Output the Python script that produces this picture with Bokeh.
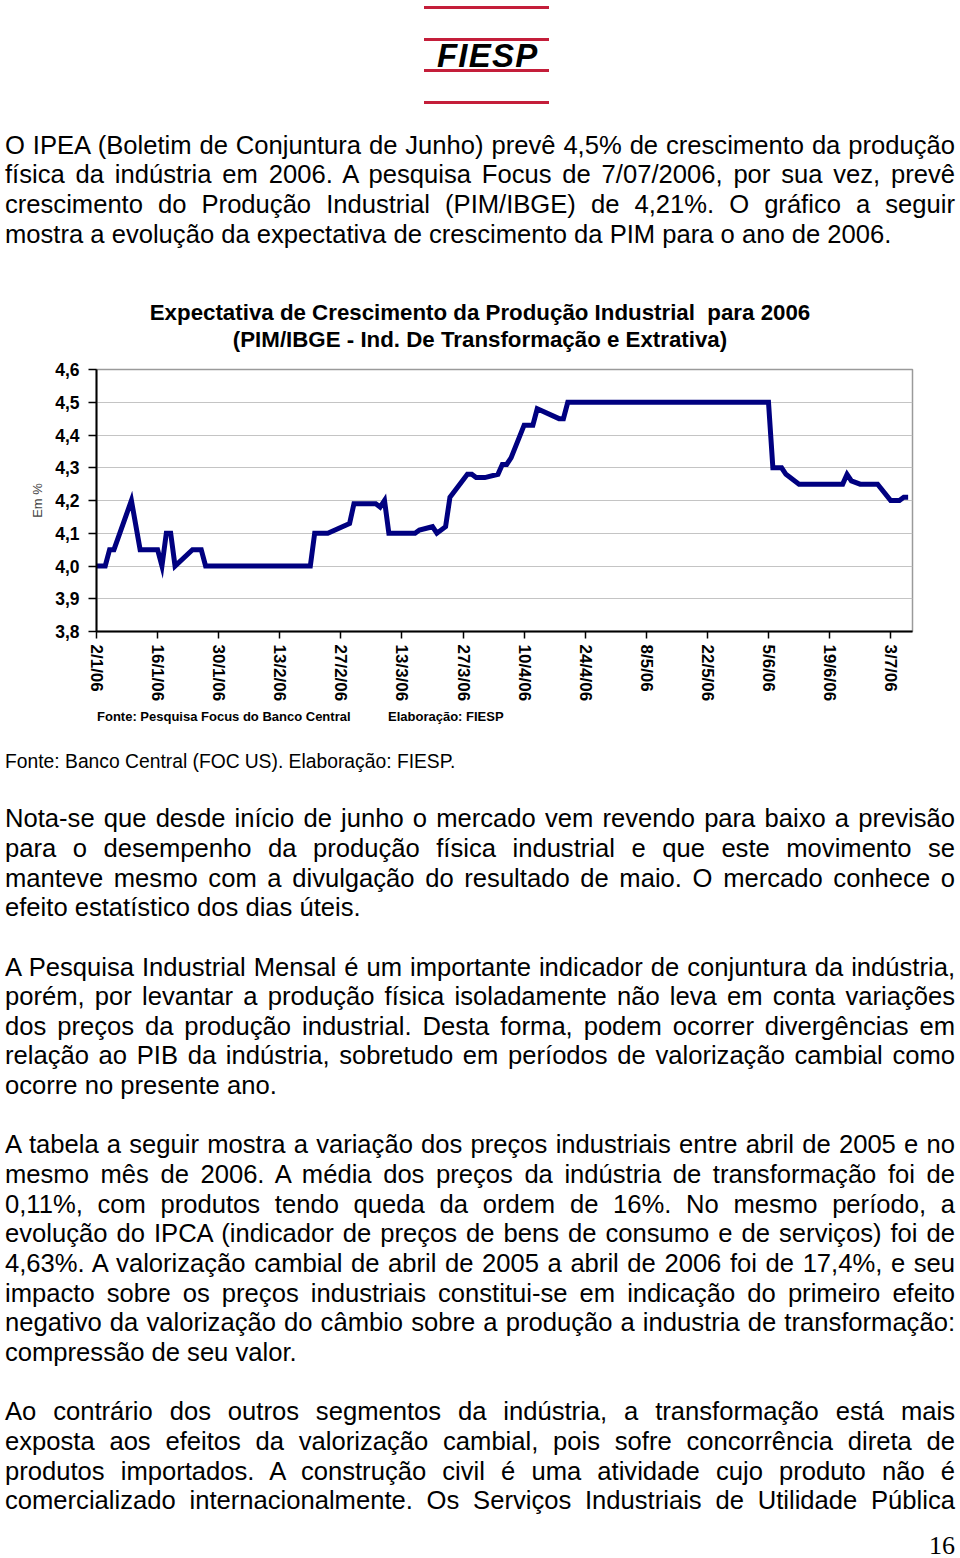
import html
from datetime import datetime

from bokeh.plotting import figure
from bokeh.models import Div, FixedTicker, CustomJSTickFormatter, Label, Range1d
from bokeh.layouts import column
from bokeh.embed import file_html
from bokeh.resources import INLINE

# ---------------- data ----------------
dates = [
    "2006-01-02", "2006-01-04", "2006-01-05", "2006-01-06", "2006-01-10",
    "2006-01-12", "2006-01-16", "2006-01-17", "2006-01-18", "2006-01-19",
    "2006-01-20", "2006-01-24", "2006-01-26", "2006-01-27", "2006-02-20",
    "2006-02-21", "2006-02-24", "2006-03-01", "2006-03-02", "2006-03-07",
    "2006-03-08", "2006-03-09", "2006-03-10", "2006-03-16", "2006-03-17",
    "2006-03-20", "2006-03-21", "2006-03-23", "2006-03-24", "2006-03-28",
    "2006-03-29", "2006-03-30", "2006-04-01", "2006-04-04", "2006-04-05",
    "2006-04-06", "2006-04-07", "2006-04-10", "2006-04-12", "2006-04-13",
    "2006-04-18", "2006-04-19", "2006-04-20", "2006-06-05", "2006-06-06",
    "2006-06-08", "2006-06-09", "2006-06-12", "2006-06-22", "2006-06-23",
    "2006-06-24", "2006-06-26", "2006-06-30", "2006-07-03", "2006-07-05",
    "2006-07-06", "2006-07-07",
]
values = [
    4.00, 4.00, 4.05, 4.05, 4.20,
    4.05, 4.05, 4.00, 4.10, 4.10,
    4.00, 4.05, 4.05, 4.00, 4.00,
    4.10, 4.10, 4.13, 4.19, 4.19,
    4.18, 4.20, 4.10, 4.10, 4.11,
    4.12, 4.10, 4.12, 4.21, 4.28,
    4.28, 4.27, 4.27, 4.28, 4.31,
    4.31, 4.33, 4.43, 4.43, 4.48,
    4.45, 4.45, 4.50, 4.50, 4.30,
    4.30, 4.28, 4.25, 4.25, 4.28,
    4.26, 4.25, 4.25, 4.20, 4.20,
    4.21, 4.21,
]
x_tick_labels = ["2/1/06", "16/1/06", "30/1/06", "13/2/06", "27/2/06", "13/3/06",
                 "27/3/06", "10/4/06", "24/4/06", "8/5/06", "22/5/06", "5/6/06",
                 "19/6/06", "3/7/06"]
x_axis_end = "2006-07-08"
y_ticks = [3.8, 3.9, 4.0, 4.1, 4.2, 4.3, 4.4, 4.5, 4.6]
last_value_label = "4,21"
y_axis_title = "Em %"
chart_title = ["Expectativa de Crescimento da Produção Industrial  para 2006",
               "(PIM/IBGE - Ind. De Transformação e Extrativa)"]
chart_source = "Fonte: Pesquisa Focus do Banco Central"
chart_author = "Elaboração: FIESP"

P1 = [
    "O IPEA (Boletim de Conjuntura de Junho) prevê 4,5% de crescimento da produção",
    "física da indústria em 2006. A pesquisa Focus de 7/07/2006, por sua vez,  prevê",
    "crescimento do Produção Industrial (PIM/IBGE) de 4,21%. O gráfico a seguir",
    "mostra a evolução da expectativa de crescimento da PIM para o ano de 2006.",
]
P2 = [
    "Nota-se que desde início de junho o mercado vem revendo para baixo a previsão",
    "para o desempenho da produção física industrial e que este movimento se",
    "manteve mesmo com a divulgação do resultado de maio. O mercado conhece o",
    "efeito estatístico dos dias úteis.",
]
P3 = [
    "A Pesquisa Industrial Mensal é um importante indicador de conjuntura da indústria,",
    "porém, por levantar a produção física isoladamente não leva em conta variações",
    "dos preços da produção industrial. Desta forma, podem ocorrer divergências em",
    "relação ao PIB da indústria, sobretudo em períodos de valorização cambial como",
    "ocorre no presente ano.",
]
P4 = [
    "A tabela a seguir mostra a variação dos preços industriais entre abril de 2005 e no",
    "mesmo mês de 2006. A média dos preços da indústria de transformação foi de",
    "0,11%, com produtos tendo queda da ordem de 16%. No mesmo período, a",
    "evolução do IPCA (indicador de preços de bens de consumo e de serviços) foi de",
    "4,63%. A valorização cambial de abril de 2005 a abril de 2006 foi de 17,4%, e seu",
    "impacto sobre os preços industriais constitui-se em indicação do primeiro efeito",
    "negativo da valorização do câmbio sobre a produção a industria de transformação:",
    "compressão de seu valor.",
]
P5 = [
    "Ao contrário dos outros segmentos da indústria, a transformação está mais",
    "exposta aos efeitos da valorização cambial, pois sofre concorrência direta de",
    "produtos importados. A construção civil é uma atividade cujo produto não é",
    "comercializado internacionalmente. Os Serviços Industriais de Utilidade Pública",
]
page_number = "16"

# ---------------- helpers ----------------
FONT = "'Liberation Sans', Arial, Helvetica, sans-serif"
SIZE = 25.6
LH = 29.65
PAGE_W = 960


def base_top(baseline, size, lh):
    return baseline - (lh / 2 + 0.3465 * size)


def para_html(lines, top, justify_last=False, size=SIZE, lh=LH):
    out = [f'<div style="position:absolute;left:5px;top:{top:.2f}px;width:950px;'
           f'font-size:{size}px;line-height:{lh}px;">']
    for i, ln in enumerate(lines):
        last = (i == len(lines) - 1) and not justify_last
        al = "left" if last else "justify"
        out.append(f'<div style="height:{lh}px;text-align:{al};text-align-last:{al};">'
                   f'{html.escape(ln)}</div>')
    out.append('</div>')
    return "".join(out)


# ---------------- top block (logo, paragraph, title) ----------------
TOP_H = 355
red = "#c41e3a"
top_parts = [f'<div style="position:relative;width:{PAGE_W}px;height:{TOP_H}px;'
             f'font-family:{FONT};color:#000;">']
for t in [5.8, 37.5, 69.2, 101.2]:
    top_parts.append(f'<div style="position:absolute;left:424px;top:{t}px;width:125px;'
                     f'height:3px;background:{red};"></div>')
top_parts.append('<div style="position:absolute;left:437px;top:38.8px;font-size:33px;'
                 'line-height:33px;font-weight:bold;font-style:italic;letter-spacing:1.2px;">'
                 'FIESP</div>')
top_parts.append(para_html(P1, base_top(154.5, SIZE, LH)))
tt = base_top(320.5, 22.3, 27)
top_parts.append(f'<div style="position:absolute;left:0;top:{tt:.2f}px;width:{PAGE_W}px;'
                 f'text-align:center;font-size:22.3px;line-height:27px;font-weight:bold;'
                 f'white-space:pre;">'
                 + "\n".join(html.escape(s) for s in chart_title) + '</div>')
top_parts.append('</div>')
top_div = Div(text="".join(top_parts), width=PAGE_W, height=TOP_H, margin=0,
              styles={"overflow": "visible"})

# ---------------- chart ----------------
origin = datetime.strptime(x_tick_labels[0], "%d/%m/%y")
xs = [(datetime.strptime(d, "%Y-%m-%d") - origin).days for d in dates]
tick_pos = [(datetime.strptime(t, "%d/%m/%y") - origin).days for t in x_tick_labels]
x_end = (datetime.strptime(x_axis_end, "%Y-%m-%d") - origin).days

FIG_H = 351
p = figure(width=PAGE_W, height=FIG_H, output_backend="svg", toolbar_location=None,
           x_range=Range1d(0, x_end), y_range=Range1d(y_ticks[0], y_ticks[-1]),
           min_border_left=96, min_border_right=48, min_border_top=14,
           min_border_bottom=75)
p.background_fill_color = "white"
p.border_fill_color = "white"
p.outline_line_color = "#9a9a9a"
p.outline_line_width = 1.5

p.line(xs, values, line_color="#000080", line_width=5, line_join="miter")

xa = p.xaxis[0]
xa.ticker = FixedTicker(ticks=tick_pos)
xa.major_label_overrides = {t: lab for t, lab in zip(tick_pos, x_tick_labels)}
xa.major_label_orientation = "vertical"
ya = p.yaxis[0]
ya.ticker = FixedTicker(ticks=y_ticks)
ya.formatter = CustomJSTickFormatter(code="return tick.toFixed(1).replace('.', ',');")
ya.axis_label = y_axis_title
ya.axis_label_text_font = "Liberation Sans"
ya.axis_label_text_font_style = "normal"
ya.axis_label_text_font_size = "13px"
ya.axis_label_standoff = 7
for ax, size, standoff, tick_out in [(xa, "17px", 6, 7), (ya, "17.5px", 9, 8)]:
    ax.axis_line_color = "black"
    ax.axis_line_width = 2
    ax.major_tick_line_color = "black"
    ax.major_tick_line_width = 1.5
    ax.major_tick_in = 0
    ax.major_tick_out = tick_out
    ax.minor_tick_line_color = None
    ax.major_label_text_font = "Liberation Sans"
    ax.major_label_text_font_style = "bold"
    ax.major_label_text_font_size = size
    ax.major_label_text_color = "black"
    ax.major_label_standoff = standoff

p.xgrid.visible = False
p.ygrid.grid_line_color = "#c4c4c4"
p.ygrid.grid_line_width = 1

p.add_layout(Label(x=x_end, y=values[-1], text=last_value_label, x_offset=1,
                   text_baseline="middle", text_align="left",
                   text_font="Liberation Sans", text_font_style="bold",
                   text_font_size="17.5px", text_color="black"))

# ---------------- bottom block ----------------
BOT_TOP = TOP_H + FIG_H
BOT_H = 1558 - BOT_TOP
bp = [f'<div style="position:relative;width:{PAGE_W}px;height:{BOT_H}px;'
      f'font-family:{FONT};color:#000;">']
st = base_top(721.7, 13, 16) - BOT_TOP
bp.append(f'<div style="position:absolute;left:97px;top:{st:.2f}px;font-size:13px;'
          f'line-height:16px;font-weight:bold;white-space:nowrap;">{html.escape(chart_source)}</div>')
bp.append(f'<div style="position:absolute;left:388px;top:{st:.2f}px;font-size:13px;'
          f'line-height:16px;font-weight:bold;white-space:nowrap;">{html.escape(chart_author)}</div>')
ft = base_top(768.5, 19.3, LH) - BOT_TOP
bp.append(f'<div style="position:absolute;left:5px;top:{ft:.2f}px;font-size:19.3px;'
          f'line-height:{LH}px;white-space:nowrap;">Fonte: Banco Central (FOC'
          f'<span style="margin-left:5px">US</span>). Elaboração: FIESP.</div>')
y0 = base_top(828.0, SIZE, LH) - BOT_TOP
row = 0
for para, jl in [(P2, False), (P3, False), (P4, False), (P5, True)]:
    bp.append(para_html(para, y0 + row * LH, justify_last=jl))
    row += len(para) + 1
pt = 1555 - (5 + 0.3375 * 26) - BOT_TOP
bp.append(f'<div style="position:absolute;right:5px;top:{pt:.2f}px;font-size:26px;'
          f'line-height:10px;font-family:\'Liberation Serif\',\'Times New Roman\',serif;">'
          f'{page_number}</div>')
bp.append('</div>')
bot_div = Div(text="".join(bp), width=PAGE_W, height=BOT_H, margin=0,
              styles={"overflow": "visible"})

layout = column(top_div, p, bot_div, spacing=0)
open("out.html", "w").write(file_html(layout, INLINE))
